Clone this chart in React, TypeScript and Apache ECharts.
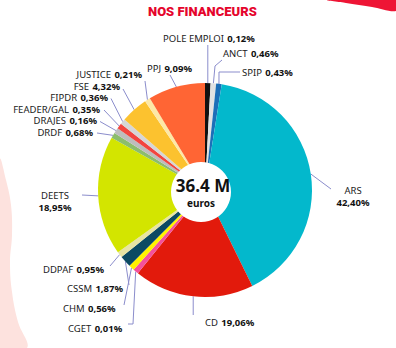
import React, { useEffect, useRef } from 'react';
import * as echarts from 'echarts';

const title = 'NOS FINANCEURS';
const totalLabel = '36.4 M';
const unitLabel = 'euros';

const categories = [
  'POLE EMPLOI', 'ANCT', 'SPIP', 'ARS', 'CD', 'CGET', 'CHM', 'CSSM', 'DDPAF',
  'DEETS', 'DRDF', 'DRAJES', 'FEADER/GAL', 'FIPDR', 'FSE', 'JUSTICE', 'PPJ',
];
const shares = [
  0.12, 0.46, 0.43, 42.40, 19.06, 0.01, 0.56, 1.87, 0.95,
  18.95, 0.68, 0.16, 0.35, 0.36, 4.32, 0.21, 9.09,
];
const colors = [
  '#111111', '#e2e2e2', '#1c6fb8', '#03b8cc', '#e21a0c', '#f4509b', '#fff200', '#0b4a63', '#e7e4a4',
  '#d3e500', '#8cbd6c', '#bdbdbd', '#f2453f', '#d6d6d6', '#fcc22f', '#fde8a6', '#ff6534',
];
const twoLine = ['ARS', 'DEETS'];

type LP = { x: number; y: number; align: 'left' | 'right' | 'center'; pts: number[][]; keepX?: boolean };
const labelPlaces: LP[] = [
  { x: 163, y: 38, align: 'left', pts: [[208, 45]], keepX: true },
  { x: 223, y: 53, align: 'left', pts: [[215, 66], [222, 60]] },
  { x: 242, y: 72, align: 'left', pts: [[219, 72], [240, 72]] },
  { x: 353, y: 196, align: 'center', pts: [[331, 189]] },
  { x: 205, y: 322, align: 'left', pts: [[206, 315]], keepX: true },
  { x: 68, y: 328, align: 'left', pts: [[133, 324], [128, 324]] },
  { x: 63, y: 308, align: 'left', pts: [[124, 305]] },
  { x: 67, y: 288, align: 'left', pts: [[129, 285]] },
  { x: 43, y: 269, align: 'left', pts: [[110, 266]] },
  { x: 55, y: 201, align: 'center', pts: [[82, 195]] },
  { x: 93, y: 132, align: 'right', pts: [[97, 133]] },
  { x: 97, y: 120.5, align: 'right', pts: [[100, 121.5]] },
  { x: 100, y: 109, align: 'right', pts: [[104, 110]] },
  { x: 108, y: 97.5, align: 'right', pts: [[111, 98.5]] },
  { x: 120, y: 86, align: 'right', pts: [[123, 89]] },
  { x: 142, y: 74.5, align: 'right', pts: [[145, 81]] },
  { x: 147, y: 68, align: 'left', pts: [[170, 75]] },
];

const fmt = (v: number) => v.toFixed(2).replace('.', ',') + '%';

export default function App() {
  const ref = useRef<HTMLDivElement>(null);
  useEffect(() => {
    document.body.style.margin = '0';
    const chart = echarts.init(ref.current!, null, { renderer: 'svg' });
    const data = categories.map((name, i) => ({
      name,
      value: shares[i],
      itemStyle: { color: colors[i] },
    }));
    chart.setOption({
      animation: false,
      backgroundColor: '#ffffff',
      graphic: [
        {
          type: 'polygon',
          z: -10,
          shape: {
            points: [[0, 160], [6, 180], [11, 205], [12, 235], [10, 262], [12, 292], [18, 322], [27, 348], [0, 348]],
            smooth: 0.4,
          },
          style: { fill: '#fde2de' },
        },
        {
          type: 'polygon',
          z: -10,
          shape: {
            points: [[326, 0], [396, 0], [396, 11], [372, 7], [346, 3]],
            smooth: 0.3,
          },
          style: { fill: '#ee1535' },
        },
        {
          type: 'text',
          left: 148,
          top: 5,
          style: {
            text: title,
            fill: '#e5052d',
            font: '900 13px Roboto',
          },
        },
        {
          type: 'circle',
          z: 100,
          shape: { cx: 201, cy: 192, r: 30 },
          style: { fill: '#ffffff' },
        },
        {
          type: 'text',
          z: 101,
          x: 203,
          y: 185,
          style: {
            text: totalLabel,
            fill: '#111',
            font: 'bold 17px "Noto Sans"',
            align: 'center',
            verticalAlign: 'middle',
          },
        },
        {
          type: 'text',
          z: 101,
          x: 201,
          y: 203,
          style: {
            text: unitLabel,
            fill: '#111',
            font: 'bold 10px "Noto Sans"',
            align: 'center',
            verticalAlign: 'middle',
          },
        },
      ],
      series: [
        {
          type: 'pie',
          silent: true,
          center: [205, 190],
          radius: [0, 107],
          startAngle: 90,
          clockwise: true,
          minAngle: 3,
          avoidLabelOverlap: false,
          data,
          label: {
            show: true,
            position: 'outside',
            formatter: (p: any) =>
              twoLine.includes(p.name)
                ? `{n2|${p.name}}\n{v2|${fmt(p.value)}}`
                : `{n|${p.name}} {v|${fmt(p.value)}}`,
            rich: {
              n: { fontFamily: 'Noto Sans', fontSize: 9.5, color: '#222', lineHeight: 10 },
              v: { fontFamily: 'Noto Sans', fontSize: 9.5, fontWeight: 'bold', color: '#111', lineHeight: 10 },
              n2: { fontFamily: 'Noto Sans', fontSize: 9.5, color: '#222', lineHeight: 12 },
              v2: { fontFamily: 'Noto Sans', fontSize: 9.5, fontWeight: 'bold', color: '#111', lineHeight: 12 },
            },
          },
          labelLine: {
            show: true,
            length: 6,
            length2: 6,
            lineStyle: { color: '#8b8dcc', width: 1 },
          },
          labelLayout: (p: any) => {
            const L = labelPlaces[p.dataIndex];
            const start = p.labelLinePoints ? p.labelLinePoints[0] : null;
            const pts = L.pts.map((q) => [q[0], q[1]]);
            if (L.keepX && start) pts[pts.length - 1][0] = start[0];
            return {
              x: L.x,
              y: L.y,
              align: L.align,
              verticalAlign: 'middle',
              labelLinePoints: start ? [start, ...pts] : undefined,
            };
          },
          emphasis: { disabled: true },
        },
      ],
    });
    return () => chart.dispose();
  }, []);
  return <div ref={ref} style={{ width: 396, height: 348 }} />;
}
